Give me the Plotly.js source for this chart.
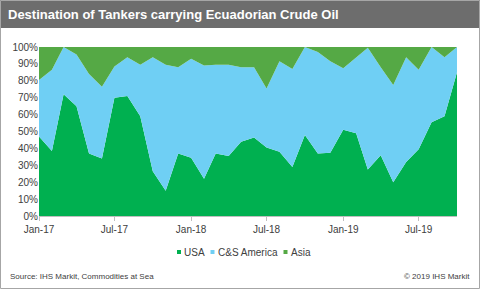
<!DOCTYPE html>
<html>
<head>
<meta charset="utf-8">
<script src="https://cdn.plot.ly/plotly-3.0.1.min.js"></script>
<style>html,body{margin:0;padding:0;background:#fff;}#chart{width:480px;height:289px;}</style>
</head>
<body>
<div id="chart"></div>
<script>
const months = ["2017-01-01","2017-02-01","2017-03-01","2017-04-01","2017-05-01","2017-06-01","2017-07-01","2017-08-01","2017-09-01","2017-10-01","2017-11-01","2017-12-01",
"2018-01-01","2018-02-01","2018-03-01","2018-04-01","2018-05-01","2018-06-01","2018-07-01","2018-08-01","2018-09-01","2018-10-01","2018-11-01","2018-12-01",
"2019-01-01","2019-02-01","2019-03-01","2019-04-01","2019-05-01","2019-06-01","2019-07-01","2019-08-01","2019-09-01","2019-10-01"];
const usa = [47, 38.5, 72, 65, 37, 34, 70, 71, 59, 26.5, 15, 37, 34.5, 22, 37, 35.5, 44, 46.5, 40.5, 38, 29, 48, 37, 37.5, 51, 49, 27.5, 36, 20, 32, 39.5, 55.5, 59, 85];
const csAmerica = [33.5, 48, 28, 30.5, 47, 42.5, 18.5, 23, 30.5, 67.5, 74.5, 51, 58.5, 67, 52.5, 54, 44, 41.5, 35, 53.5, 58, 52, 60, 54, 36.5, 45, 72, 52, 57.5, 62, 47, 44.5, 35, 15];
const asia = [19.5, 13.5, 0, 4.5, 16, 23.5, 11.5, 6, 10.5, 6, 10.5, 12, 7, 11, 10.5, 10.5, 12, 12, 24.5, 8.5, 13, 0, 3, 8.5, 12.5, 6, 0.5, 12, 22.5, 6, 13.5, 0, 6, 0];
const seriesNames = ["USA", "C&S America", "Asia"];
const tickVals = ["2017-01-01","2017-07-01","2018-01-01","2018-07-01","2019-01-01","2019-07-01"];
const tickText = ["Jan-17","Jul-17","Jan-18","Jul-18","Jan-19","Jul-19"];
const yTicks = [0,10,20,30,40,50,60,70,80,90,100];
const yText = ["0%","10%","20%","30%","40%","50%","60%","70%","80%","90%","100%"];

const colors = ['#00b050', '#6fcff4', '#55a945'];
const mk = (name, y, color) => ({
  type: 'scatter', mode: 'lines', name: name, x: months, y: y,
  stackgroup: 'one', line: {width: 0, color: color}, fillcolor: color, showlegend: false
});
const data = [
  mk(seriesNames[0], usa, colors[0]),
  mk(seriesNames[1], csAmerica, colors[1]),
  mk(seriesNames[2], asia, colors[2])
];
const L=39, R=457, T=47, B=216, W=480, H=289;
const pw=R-L, ph=B-T;
const px = v => (v-L)/pw, py = v => (B-v)/ph;
const legendSq = [177, 210.5, 283.5];
const legendAnn = seriesNames.map((n, i) => ({
  xref: 'paper', yref: 'paper', x: px(legendSq[i] + 5), y: py(252), xanchor: 'left', yanchor: 'middle', showarrow: false,
  text: n.replace('&', '&amp;'), font: {size: 10, color: '#404040'}
}));
const legendShapes = seriesNames.map((n, i) => ({
  type: 'rect', xref: 'paper', yref: 'paper', x0: px(legendSq[i]), x1: px(legendSq[i] + 4), y0: py(254), y1: py(250),
  fillcolor: colors[i], line: {width: 0}
}));
const layout = {
  width: W, height: H,
  margin: {l: L, r: W-R, t: T, b: H-B, pad: 0},
  paper_bgcolor: '#ffffff', plot_bgcolor: '#ffffff',
  showlegend: false,
  font: {family: 'Arial, "Liberation Sans", sans-serif', size: 10, color: '#404040'},
  title: {text: '<b>Destination of Tankers carrying Ecuadorian Crude Oil</b>', xref: 'container', yref: 'container',
    x: 8/W, xanchor: 'left', y: 1-14/H, yanchor: 'middle',
    font: {family: 'Arial, "Liberation Sans", sans-serif', size: 13, color: '#ffffff'}},
  xaxis: {type: 'date', range: ['2017-01-01','2019-10-01'], tickvals: tickVals, ticktext: tickText,
    showgrid: false, zeroline: false, showline: true, linecolor: '#bfbfbf', linewidth: 1,
    ticks: 'outside', ticklen: 4, tickcolor: '#bfbfbf', tickfont: {size: 10, color: '#404040'}},
  yaxis: {range: [0, 100], tickvals: yTicks, ticktext: yText, showgrid: false, zeroline: false,
    showline: false, ticks: '', tickfont: {size: 10, color: '#404040'}},
  shapes: [
    {type: 'rect', xref: 'paper', yref: 'paper', x0: px(0), x1: px(W), y0: py(28), y1: py(0),
      fillcolor: '#6d6d6d', line: {width: 0}, layer: 'below'},
    {type: 'rect', xref: 'paper', yref: 'paper', x0: px(0.5), x1: px(W-0.5), y0: py(H-0.5), y1: py(0.5),
      fillcolor: 'rgba(0,0,0,0)', line: {width: 1, color: '#a6a6a6'}, layer: 'above'}
  ].concat(legendShapes),
  annotations: legendAnn.concat([
    {xref: 'paper', yref: 'paper', x: px(8), y: py(276), xanchor: 'left', yanchor: 'middle', showarrow: false,
      text: 'Source: IHS Markit, Commodities at Sea', font: {size: 8, color: '#404040'}},
    {xref: 'paper', yref: 'paper', x: px(472), y: py(276), xanchor: 'right', yanchor: 'middle', showarrow: false,
      text: '© 2019 IHS Markit', font: {size: 8, color: '#404040'}}
  ])
};
Plotly.newPlot('chart', data, layout, {displayModeBar: false, staticPlot: true});
</script>
</body>
</html>
